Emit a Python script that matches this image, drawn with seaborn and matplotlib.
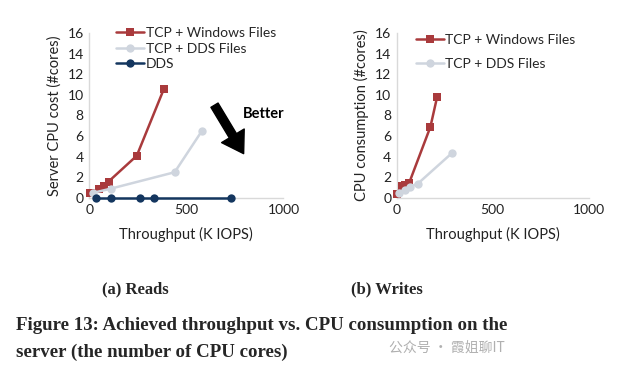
import pandas as pd
import seaborn as sns
import matplotlib.pyplot as plt

# %%
# values
reads_win_x = [5, 50, 75, 100, 245, 385]
reads_win_y = [0.5, 0.9, 1.2, 1.6, 4.1, 10.6]
reads_dds_files_x = [20, 110, 440, 580]
reads_dds_files_y = [0.5, 0.9, 2.5, 6.5]
reads_dds_x = [34, 113, 263, 332, 732]
reads_dds_y = [0, 0, 0, 0, 0]

writes_win_x = [0, 25, 40, 65, 175, 210]
writes_win_y = [0.4, 1.2, 1.3, 1.5, 6.9, 9.8]
writes_dds_files_x = [10, 40, 70, 110, 290]
writes_dds_files_y = [0.5, 0.8, 1.1, 1.4, 4.4]

series_names = ["TCP + Windows Files", "TCP + DDS Files", "DDS"]
x_ticks = [0, 500, 1000]
y_ticks = [0, 2, 4, 6, 8, 10, 12, 14, 16]

colors = {"TCP + Windows Files": "#A93A3C",
          "TCP + DDS Files": "#CFD5DE",
          "DDS": "#14365F"}
markers = {"TCP + Windows Files": "s",
           "TCP + DDS Files": "o",
           "DDS": "o"}


def to_long(pairs):
    frames = []
    for name, xs, ys in pairs:
        frames.append(pd.DataFrame({"x": xs, "y": ys, "series": name}))
    return pd.concat(frames, ignore_index=True)


reads_df = to_long([
    (series_names[0], reads_win_x, reads_win_y),
    (series_names[1], reads_dds_files_x, reads_dds_files_y),
    (series_names[2], reads_dds_x, reads_dds_y),
])
writes_df = to_long([
    (series_names[0], writes_win_x, writes_win_y),
    (series_names[1], writes_dds_files_x, writes_dds_files_y),
])

# %%
sns.set_theme(style="white")
plt.rcParams["font.family"] = ["Lato", "DejaVu Sans"]

fig = plt.figure(figsize=(6.37, 3.75), dpi=100)
ax1 = fig.add_axes([0.140, 0.472, 0.305, 0.440])
ax2 = fig.add_axes([0.623, 0.472, 0.301, 0.440])


def draw(ax, df, ylabel):
    order = [s for s in series_names if s in df.series.unique()]
    sns.lineplot(data=df, x="x", y="y", hue="series", style="series",
                 hue_order=order, style_order=order,
                 palette=colors, markers=markers, dashes=False,
                 markersize=6, markeredgewidth=0, linewidth=1.8,
                 sort=False, estimator=None, ax=ax)
    ax.set_xlim(0, 1000)
    ax.set_ylim(0, 16)
    ax.set_xticks(x_ticks)
    ax.set_yticks(y_ticks)
    ax.tick_params(axis="both", length=0, labelsize=10, colors="#222222", pad=4)
    for s in ["top", "right"]:
        ax.spines[s].set_visible(False)
    for s in ["left", "bottom"]:
        ax.spines[s].set_color("#D9D9D9")
        ax.spines[s].set_linewidth(1.0)
        ax.spines[s].set_zorder(1)
    ax.set_xlabel("Throughput (K IOPS)", fontsize=10.5, color="#222222", labelpad=8)
    ax.set_ylabel(ylabel, fontsize=10.5, color="#222222", labelpad=4)
    for line in ax.lines:
        line.set_clip_on(False)
        line.set_zorder(3)


draw(ax1, reads_df, "Server CPU cost (#cores)")
draw(ax2, writes_df, "CPU consumption (#cores)")

ax1.legend(loc="upper left", bbox_to_anchor=(0.14, 1.035), frameon=False,
           fontsize=10, handlelength=2.0, handletextpad=0.1,
           labelspacing=0.25, borderpad=0, borderaxespad=0)
ax2.legend(loc="upper left", bbox_to_anchor=(0.10, 0.995), frameon=False,
           fontsize=10, handlelength=2.0, handletextpad=0.1,
           labelspacing=0.85, borderpad=0, borderaxespad=0)

# "Better" arrow
ax1.annotate("", xy=(795, 4.3), xytext=(645, 9.0),
             arrowprops=dict(facecolor="black", edgecolor="black",
                             width=6, headwidth=19, headlength=15))
ax1.text(900, 8.1, "Better", fontsize=10.5, fontweight="bold",
         ha="center", va="center", color="black")

# captions
serif = ["Liberation Serif", "DejaVu Serif"]
fig.text(135 / 637, 1 - 289 / 375, "(a) Reads", ha="center", va="center",
         fontsize=12, fontweight="bold", family=serif)
fig.text(387 / 637, 1 - 289 / 375, "(b) Writes", ha="center", va="center",
         fontsize=12, fontweight="bold", family=serif)
fig.text(16 / 637, 1 - 325 / 375,
         "Figure 13: Achieved throughput vs. CPU consumption on the",
         ha="left", va="center", fontsize=13.6, fontweight="bold", family=serif)
fig.text(16 / 637, 1 - 352 / 375, "server (the number of CPU cores)",
         ha="left", va="center", fontsize=13.6, fontweight="bold", family=serif)
fig.text(505 / 637, 1 - 348 / 375, "公众号 · 霞姐聊IT", ha="right", va="center",
         fontsize=10, color="#B0B0B0", family=["Noto Sans CJK SC", "DejaVu Sans"])

fig.savefig("out.png", dpi=100)
